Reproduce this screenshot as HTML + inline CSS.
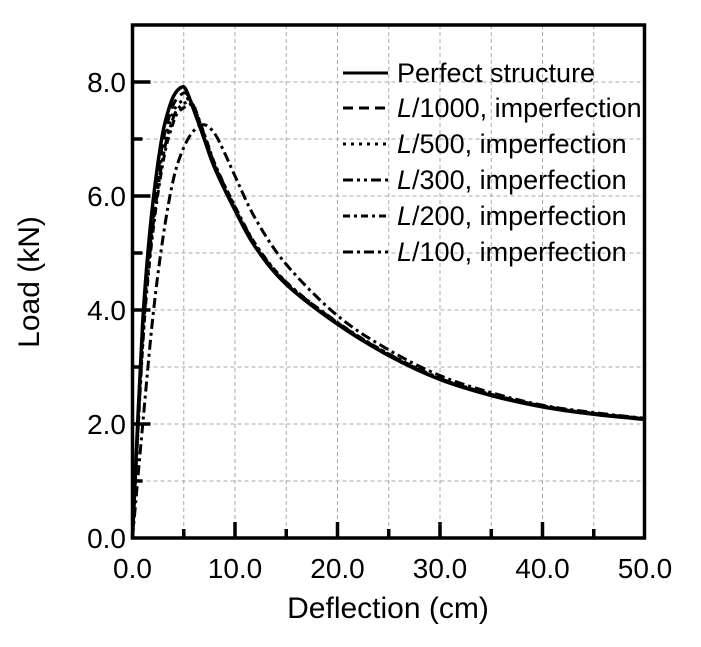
<!DOCTYPE html>
<html><head><meta charset="utf-8"><style>
body{margin:0;background:#fff;}
svg text{font-family:"Liberation Sans",Arial,sans-serif;fill:#000;}
</style></head><body>
<svg id="s" width="701" height="642" xmlns="http://www.w3.org/2000/svg">
<g id="grid" stroke="#aaa" stroke-width="1" stroke-dasharray="4,3"></g>
<g id="curves" fill="none" stroke="#000"></g>
<rect x="132.5" y="25" width="512" height="513" fill="none" stroke="#000" stroke-width="3.5"/>
<g id="ticks" stroke="#000" stroke-width="3.5"></g>
<g font-size="28" text-anchor="end">
<text x="126" y="92">8.0</text><text x="126" y="206">6.0</text><text x="126" y="320">4.0</text><text x="126" y="434">2.0</text><text x="126" y="548">0.0</text>
</g>
<g font-size="28" text-anchor="middle">
<text x="132.5" y="578">0.0</text><text x="235" y="578">10.0</text><text x="337.5" y="578">20.0</text><text x="440" y="578">30.0</text><text x="542.5" y="578">40.0</text><text x="645" y="578">50.0</text>
</g>
<g font-size="30" text-anchor="middle">
<text x="388" y="618">Deflection (cm)</text>
<text transform="translate(39,282) rotate(-90)">Load (kN)</text>
</g>
<g font-size="27" id="leg">
<text x="397" y="82">Perfect structure</text>
<text x="397" y="117"><tspan font-style="italic">L</tspan>/1000, imperfection</text>
<text x="397" y="153"><tspan font-style="italic">L</tspan>/500, imperfection</text>
<text x="397" y="189"><tspan font-style="italic">L</tspan>/300, imperfection</text>
<text x="397" y="225"><tspan font-style="italic">L</tspan>/200, imperfection</text>
<text x="397" y="261"><tspan font-style="italic">L</tspan>/100, imperfection</text>
</g>
<g id="legl" stroke="#000" stroke-width="3"></g>
</svg>
<script>
const X=d=>132.5+10.25*d, Y=v=>538-57*v;
const NS="http://www.w3.org/2000/svg";
function el(p,t,a){const e=document.createElementNS(NS,t);for(const k in a)e.setAttribute(k,a[k]);document.getElementById(p).appendChild(e);}
for(let d=5;d<50;d+=5)el("grid","line",{x1:X(d),x2:X(d),y1:25,y2:538});
for(let v=1;v<9;v++)el("grid","line",{x1:132.5,x2:644.5,y1:Y(v),y2:Y(v)});
for(let d=5;d<50;d+=5){const L=(d%10==0)?16:9;el("ticks","line",{x1:X(d),x2:X(d),y1:538,y2:538-L});}
for(let v=1;v<9;v++){const L=(v%2==0)?18:10;el("ticks","line",{x1:132.5,x2:132.5+L,y1:Y(v),y2:Y(v)});}
const tail=[[6,7.5],[7,7.0],[8,6.5],[10,5.75],[12,5.1],[15,4.45],[20,3.75],[25,3.2],[30,2.78],[35,2.5],[40,2.3],[45,2.17],[50,2.08]];
function mk(pk,px,sh){
 const r=[[0,0],[0.5,2],[1,3.8],[1.5,5.0],[2,5.9],[2.5,6.6],[3,7.15],[3.5,7.5],[4,7.75]].map(p=>[p[0]*sh,p[1]*pk/7.9]);
 r.push([px,pk]);r.push([px+0.5,pk-0.03]);
 return r.concat(tail.map(p=>[p[0]+(sh-1)*1.5,p[1]+(sh-1)*0.15]));
}
const sets=[
 [mk(7.9,4.7,1),"",3.5],
 [mk(7.8,4.9,1.03),"10,6",3],
 [mk(7.7,5.1,1.05),"3,5",3],
 [mk(7.65,5.3,1.08),"10,4,3,4,3,4",3],
 [mk(7.6,5.5,1.1),"7,4,3,4",3],
 [[[0,0],[1,2],[2,3.9],[3,5.3],[4,6.3],[5,6.85],[6,7.15],[7,7.25],[8,7.1],[9,6.75],[10,6.35],[12,5.6],[15,4.8],[20,3.9],[25,3.3],[30,2.85],[35,2.55],[40,2.33],[45,2.2],[50,2.1]],"10,4,3,4",3]
];
function path(pts){let d="M"+X(pts[0][0])+","+Y(pts[0][1]);
 for(let i=1;i<pts.length;i++){const p0=pts[Math.max(0,i-2)],p1=pts[i-1],p2=pts[i],p3=pts[Math.min(pts.length-1,i+1)];
 const c1=[X(p1[0])+(X(p2[0])-X(p0[0]))/6,Y(p1[1])+(Y(p2[1])-Y(p0[1]))/6],c2=[X(p2[0])-(X(p3[0])-X(p1[0]))/6,Y(p2[1])-(Y(p3[1])-Y(p1[1]))/6];
 d+=` C${c1} ${c2} ${X(p2[0])},${Y(p2[1])}`;}return d;}
const ly=[73,108,144,180,216,252];
sets.forEach((s,i)=>{el("curves","path",{d:path(s[0]),"stroke-dasharray":s[1]||"none","stroke-width":s[2]});
 el("legl","line",{x1:343,x2:388,y1:ly[i],y2:ly[i],"stroke-dasharray":s[1]||"none"});});
</script>
</body></html>
